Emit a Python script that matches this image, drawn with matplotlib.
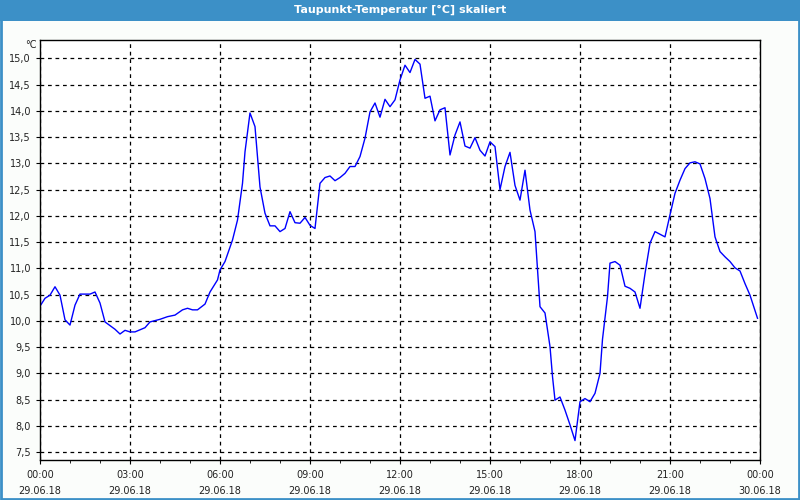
import matplotlib
matplotlib.use("Agg")
import matplotlib.pyplot as plt
from matplotlib.patches import Rectangle
from matplotlib.ticker import MultipleLocator, FuncFormatter

# ---------------------------
# Data (29.06.18), dew point in °C
# ---------------------------
times = ["00:00", "00:10", "00:20", "00:30", "00:40", "00:50", "01:00", "01:10", "01:20", "01:40",
         "01:50", "02:00", "02:10", "02:30", "02:40", "02:50", "03:00", "03:10", "03:30", "03:40",
         "04:00", "04:15", "04:30", "04:45", "04:55", "05:05", "05:15", "05:30", "05:40", "05:55",
         "06:00", "06:10", "06:25", "06:35", "06:45", "06:50", "07:00", "07:10", "07:20", "07:30",
         "07:40", "07:50", "08:00", "08:10", "08:20", "08:30", "08:40", "08:50", "09:00", "09:10",
         "09:20", "09:30", "09:40", "09:50", "10:00", "10:10", "10:20", "10:30", "10:40", "10:50",
         "11:00", "11:10", "11:20", "11:30", "11:40", "11:50", "12:00", "12:10", "12:20", "12:30",
         "12:40", "12:50", "13:00", "13:10", "13:20", "13:30", "13:40", "13:50", "14:00", "14:10",
         "14:20", "14:30", "14:40", "14:50", "15:00", "15:10", "15:20", "15:30", "15:40", "15:50",
         "16:00", "16:10", "16:20", "16:30", "16:35", "16:40", "16:50", "17:00", "17:05", "17:10",
         "17:20", "17:30", "17:40", "17:50", "18:00", "18:10", "18:20", "18:30", "18:40", "18:45",
         "18:55", "19:00", "19:10", "19:20", "19:30", "19:40", "19:50", "20:00", "20:10", "20:20",
         "20:30", "20:40", "20:50", "21:00", "21:10", "21:20", "21:30", "21:40", "21:50", "22:00",
         "22:10", "22:20", "22:30", "22:40", "22:50", "23:00", "23:10", "23:20", "23:30", "23:40",
         "23:55"]
dew_point = [10.28, 10.43, 10.49, 10.65, 10.49, 10.02, 9.92, 10.30, 10.51, 10.51,
             10.55, 10.34, 9.98, 9.84, 9.75, 9.82, 9.79, 9.79, 9.87, 9.98,
             10.03, 10.08, 10.11, 10.21, 10.24, 10.21, 10.21, 10.32, 10.55, 10.78,
             10.97, 11.13, 11.54, 11.92, 12.62, 13.22, 13.96, 13.70, 12.55, 12.05,
             11.81, 11.81, 11.70, 11.76, 12.08, 11.87, 11.86, 11.97, 11.82, 11.76,
             12.62, 12.73, 12.76, 12.67, 12.73, 12.81, 12.94, 12.94, 13.13, 13.48,
             13.98, 14.15, 13.88, 14.22, 14.08, 14.21, 14.59, 14.87, 14.73, 14.98,
             14.89, 14.24, 14.28, 13.81, 14.02, 14.06, 13.16, 13.54, 13.79, 13.33,
             13.29, 13.49, 13.25, 13.14, 13.41, 13.32, 12.50, 12.94, 13.21, 12.58,
             12.30, 12.87, 12.11, 11.70, 10.97, 10.27, 10.15, 9.51, 8.94, 8.49,
             8.55, 8.30, 8.02, 7.72, 8.46, 8.52, 8.46, 8.62, 9.00, 9.65,
             10.46, 11.10, 11.13, 11.06, 10.66, 10.62, 10.55, 10.24, 10.90, 11.48,
             11.70, 11.65, 11.60, 12.02, 12.43, 12.68, 12.90, 13.01, 13.03, 12.99,
             12.71, 12.33, 11.60, 11.32, 11.22, 11.13, 11.01, 10.95, 10.71, 10.49,
             10.05]

tick_hours = [0, 3, 6, 9, 12, 15, 18, 21, 24]
tick_labels = ["00:00\n29.06.18", "03:00\n29.06.18", "06:00\n29.06.18",
               "09:00\n29.06.18", "12:00\n29.06.18", "15:00\n29.06.18",
               "18:00\n29.06.18", "21:00\n29.06.18", "00:00\n30.06.18"]

title = "Taupunkt-Temperatur [°C] skaliert"
frame_blue = "#3c90c7"

# "HH:MM" -> hours since midnight
hours = [int(t[:2]) + int(t[3:]) / 60 for t in times]

# ---------------------------
# Figure
# ---------------------------
fig = plt.figure(figsize=(8, 5), dpi=100, facecolor="#fbfdfb")

# title bar and outer frame
fig.patches.append(Rectangle((0, 1 - 21 / 500), 1, 21 / 500, transform=fig.transFigure,
                             facecolor=frame_blue, edgecolor="none", zorder=0))
fig.patches.append(Rectangle((0.001, 0.002), 0.998, 0.996, transform=fig.transFigure,
                             facecolor="none", edgecolor=frame_blue, linewidth=2, zorder=1))
fig.text(0.5, 1 - 10 / 500, title, ha="center", va="center", color="white",
         fontsize=8, fontweight="bold")

ax = fig.add_axes([40 / 800, 40 / 500, 720 / 800, 420 / 500])
ax.set_facecolor("white")
ax.plot(hours, dew_point, color="#0000ff", linewidth=1)

ax.set_xlim(0, 24)
ax.set_ylim(7.35, 15.35)
ax.set_xticks(tick_hours)
ax.set_xticklabels(tick_labels)
ax.xaxis.set_minor_locator(MultipleLocator(1))
ax.yaxis.set_major_locator(MultipleLocator(0.5))
ax.yaxis.set_major_formatter(FuncFormatter(lambda v, p: f"{v:.1f}".replace(".", ",")))

ax.grid(True, which="major", color="black", linestyle=(0, (3, 3)), linewidth=0.9)
ax.tick_params(axis="both", which="major", labelsize=7, length=3, color="black",
               labelcolor="#222222")
ax.tick_params(axis="x", which="major", pad=4)
ax.tick_params(axis="x", which="minor", length=2)
for lbl in ax.get_xticklabels():
    lbl.set_linespacing(1.75)
for s in ax.spines.values():
    s.set_color("black")
    s.set_linewidth(1)

ax.text(-0.004, 1.0, "°C", transform=ax.transAxes, ha="right", va="top",
        fontsize=7, color="#222222")

fig.savefig("out.png", dpi=100, facecolor=fig.get_facecolor())
